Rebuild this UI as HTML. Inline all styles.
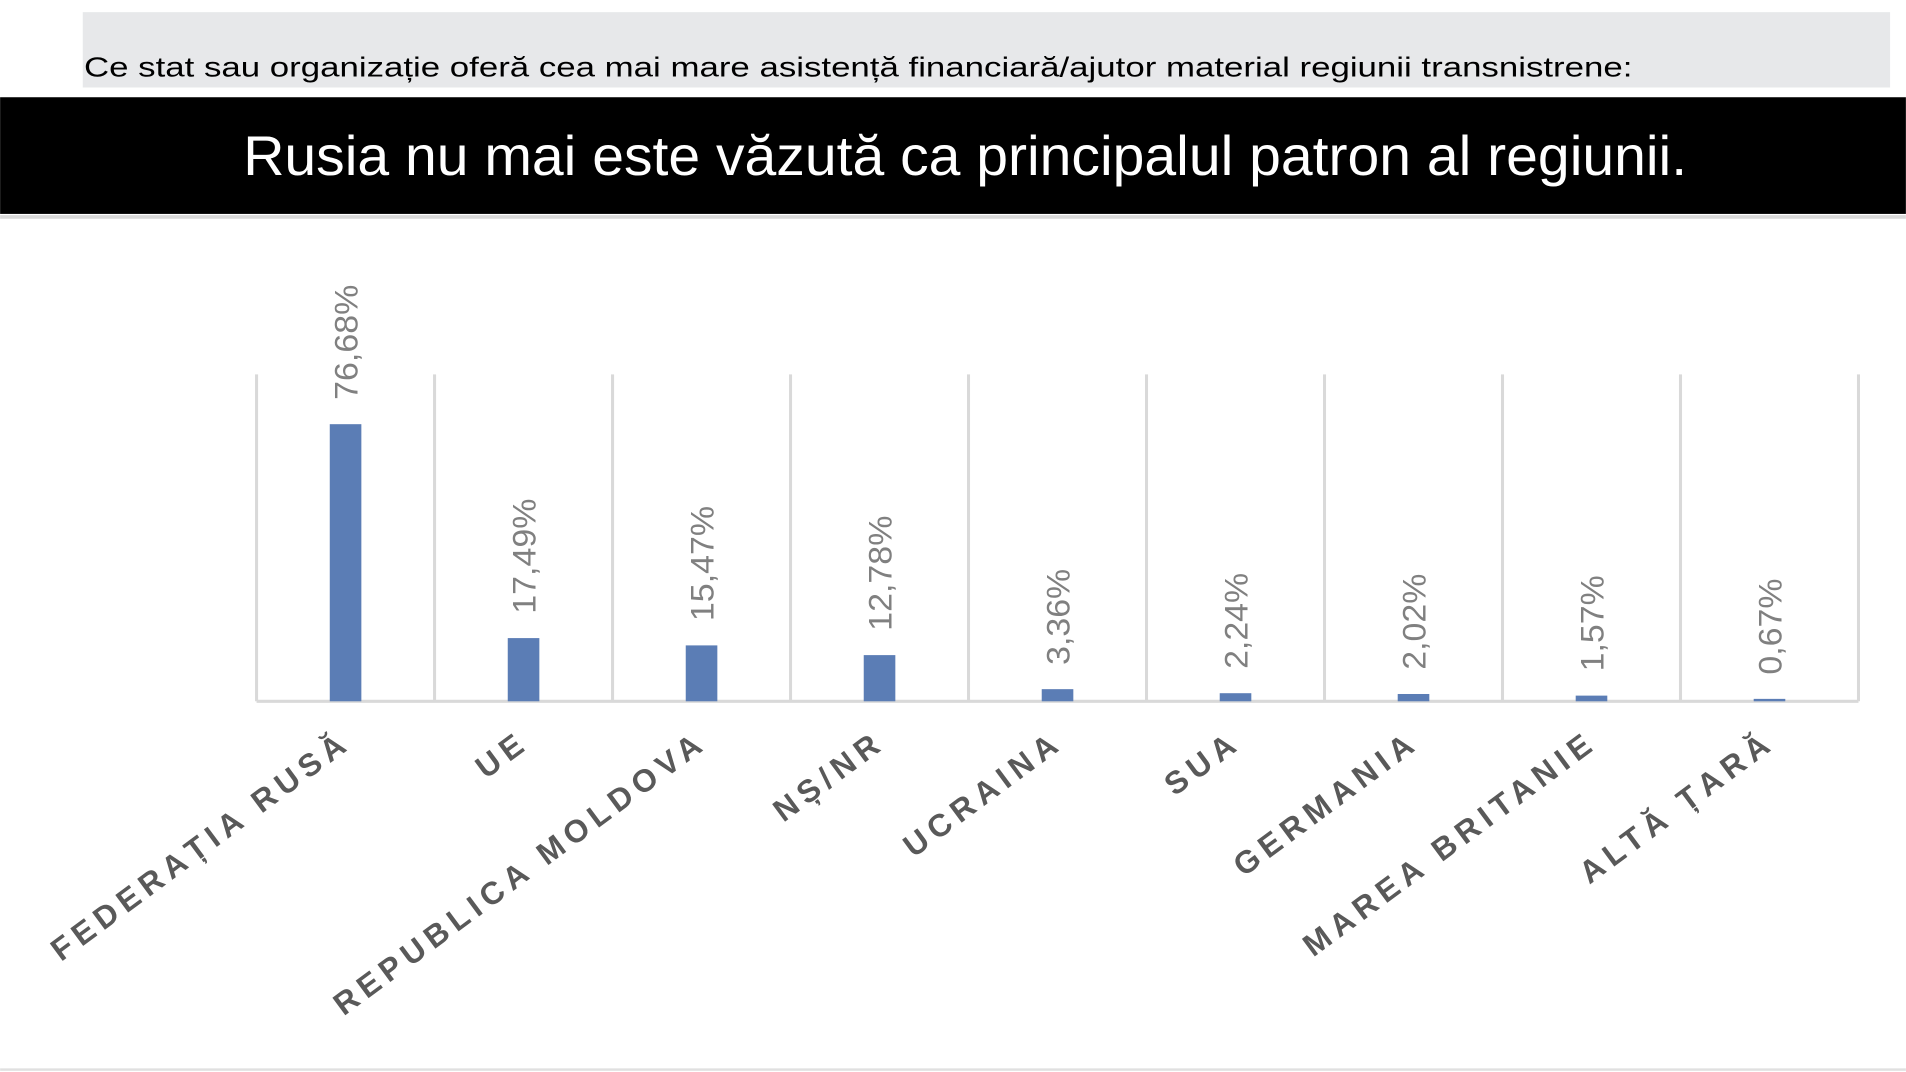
<!DOCTYPE html>
<html><head><meta charset="utf-8"><style>
html,body{margin:0;padding:0;background:#fff;width:1906px;height:1072px;overflow:hidden}
svg{display:block}
</style></head><body>
<svg id="chart" width="1906" height="1072" viewBox="0 0 1568 882" xmlns="http://www.w3.org/2000/svg" font-family="Liberation Sans, sans-serif">
<rect x="68" y="10" width="1487" height="62" fill="#e7e8ea"/>
<text x="69" y="63" font-size="23" fill="#000" textLength="1274" lengthAdjust="spacingAndGlyphs">Ce stat sau organizație oferă cea mai mare asistență financiară/ajutor material regiunii transnistrene:</text>
<rect x="0" y="80" width="1568" height="96" fill="#000"/>
<text x="794" y="144" font-size="46" fill="#fff" text-anchor="middle" textLength="1188" lengthAdjust="spacingAndGlyphs">Rusia nu mai este văzută ca principalul patron al regiunii.</text>
<rect x="0" y="177" width="1568" height="3" fill="#d9d9d9"/>
<rect x="0" y="879" width="1568" height="2" fill="#e0e0e0"/>
<g id="plot"></g>
</svg>
<script>
const categories=["FEDERAȚIA RUSĂ","UE","REPUBLICA MOLDOVA","NȘ/NR","UCRAINA","SUA","GERMANIA","MAREA BRITANIE","ALTĂ ȚARĂ"];
const values=[76.68,17.49,15.47,12.78,3.36,2.24,2.02,1.57,0.67];
const valueLabels=["76,68%","17,49%","15,47%","12,78%","3,36%","2,24%","2,02%","1,57%","0,67%"];
const NS="http://www.w3.org/2000/svg";
const g=document.getElementById('plot');
const x0=211,x1=1529,yBase=577,yTop=308,scale=228/76.68;
const bw=(x1-x0)/categories.length;
const X=i=>x0+bw*(i+0.5);
const Y=v=>yBase-v*scale;
function mk(t,a){const e=document.createElementNS(NS,t);for(const k in a)e.setAttribute(k,a[k]);g.appendChild(e);return e;}
for(let i=0;i<=categories.length;i++){
  const l=mk('line',{x1:x0+bw*i,x2:x0+bw*i,y1:yTop,y2:yBase,stroke:'#d9d9d9','stroke-width':2.5});
  
  
}
const ax=mk('line',{x1:x0,x2:x1,y1:yBase,y2:yBase,stroke:'#d9d9d9','stroke-width':2.5});


values.forEach((v,i)=>{
  const r=mk('rect',{x:X(i)-13,y:Y(v),width:26,height:yBase-Y(v),fill:'#5b7db5'});
  
  
  const lx=X(i)+10, ly=Y(v)-20;
  const t=mk('text',{x:lx,y:ly,'font-size':27,fill:'#808080',transform:`rotate(-90 ${lx} ${ly})`,textLength:valueLabels[i].length*15.8,lengthAdjust:'spacingAndGlyphs'});
  t.textContent=valueLabels[i];
  
  
  const cx=X(i)+6, cy=614;
  const c=mk('text',{x:cx,y:cy,'font-size':26,'font-weight':'bold',fill:'#595959','text-anchor':'end','letter-spacing':5,transform:`rotate(-36.5 ${cx} ${cy})`});
  c.textContent=categories[i];
  
  
});
</script>
</body></html>
